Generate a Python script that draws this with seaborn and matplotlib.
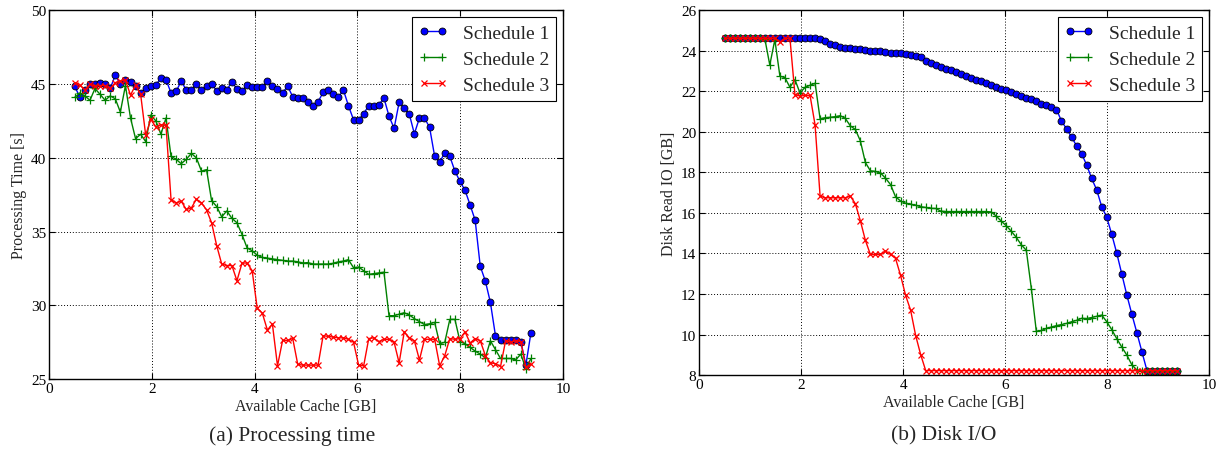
import matplotlib
matplotlib.use("Agg")
import matplotlib.pyplot as plt
import seaborn as sns
import numpy as np
import pandas as pd

# ---------------- data ----------------
cache_gb = [0.5, 0.599, 0.697, 0.796, 0.894, 0.993, 1.092, 1.19, 1.289, 1.387,
            1.486, 1.585, 1.683, 1.782, 1.88, 1.979, 2.078, 2.176, 2.275, 2.373,
            2.472, 2.571, 2.669, 2.768, 2.866, 2.965, 3.064, 3.162, 3.261, 3.359,
            3.458, 3.557, 3.655, 3.754, 3.852, 3.951, 4.05, 4.148, 4.247, 4.345,
            4.444, 4.543, 4.641, 4.74, 4.838, 4.937, 5.036, 5.134, 5.233, 5.331,
            5.43, 5.529, 5.627, 5.726, 5.824, 5.923, 6.022, 6.12, 6.219, 6.317,
            6.416, 6.515, 6.613, 6.712, 6.81, 6.909, 7.008, 7.106, 7.205, 7.303,
            7.402, 7.501, 7.599, 7.698, 7.796, 7.895, 7.994, 8.092, 8.191, 8.289,
            8.388, 8.487, 8.585, 8.684, 8.782, 8.881, 8.98, 9.078, 9.177, 9.275,
            9.374]

time_s1 = [44.84, 44.12, 44.6, 45.0, 45.0, 45.1, 45.0, 44.7, 45.6, 45.0,
           45.25, 45.15, 44.84, 44.4, 44.7, 44.84, 44.95, 45.4, 45.3, 44.4,
           44.5, 45.2, 44.6, 44.6, 45.0, 44.57, 44.9, 45.0, 44.55, 44.75,
           44.6, 45.15, 44.66, 44.5, 44.95, 44.8, 44.77, 44.8, 45.2, 44.86,
           44.66, 44.4, 44.86, 44.14, 44.03, 44.05, 43.76, 43.53, 43.8, 44.43,
           44.57, 44.3, 44.12, 44.6, 43.53, 42.58, 42.58, 43.0, 43.53, 43.5,
           43.6, 44.05, 42.83, 42.0, 43.76, 43.37, 42.96, 41.63, 42.7, 42.7,
           42.07, 40.1, 39.7, 40.36, 40.1, 39.1, 38.4, 37.8, 36.8, 35.77,
           32.65, 31.65, 30.2, 27.94, 27.65, 27.65, 27.65, 27.65, 27.55, 25.95,
           28.15]
time_s2 = [44.1, 44.4, 44.2, 43.9, 44.7, 44.3, 43.9, 44.2, 44.0, 43.1,
           44.9, 42.7, 41.3, 41.6, 41.1, 42.9, 42.5, 41.6, 42.7, 40.1,
           39.9, 39.6, 39.9, 40.3, 40.0, 39.1, 39.2, 37.1, 36.7, 36.0,
           36.4, 35.9, 35.6, 34.8, 33.9, 33.7, 33.4, 33.25, 33.2, 33.15,
           33.1, 33.05, 33.0, 33.0, 32.95, 32.87, 32.9, 32.8, 32.8, 32.8,
           32.8, 32.85, 32.95, 33.0, 33.1, 32.55, 32.6, 32.35, 32.1, 32.15,
           32.2, 32.25, 29.3, 29.3, 29.4, 29.5, 29.35, 29.1, 28.9, 28.7,
           28.75, 28.85, 27.4, 27.5, 29.05, 29.05, 27.55, 27.4, 27.15, 26.9,
           26.7, 26.45, 27.6, 27.0, 26.4, 26.4, 26.4, 26.3, 26.7, 25.7,
           26.4]
time_s3 = [45.1, 44.93, 44.6, 45.0, 44.84, 44.9, 44.9, 44.7, 45.1, 45.2,
           45.27, 44.25, 44.93, 44.3, 41.54, 42.6, 42.1, 42.24, 42.2, 37.17,
           36.95, 37.06, 36.5, 36.6, 37.2, 36.95, 36.47, 35.6, 34.05, 32.8,
           32.7, 32.7, 31.67, 32.87, 32.87, 32.35, 29.8, 29.48, 28.33, 28.73,
           25.9, 27.62, 27.62, 27.76, 26.0, 25.95, 25.95, 25.95, 25.95, 27.94,
           27.9, 27.85, 27.8, 27.8, 27.7, 27.5, 25.95, 25.9, 27.75, 27.8,
           27.55, 27.7, 27.7, 27.5, 26.1, 28.2, 27.8, 27.6, 26.3, 27.7,
           27.7, 27.7, 25.9, 26.6, 27.75, 27.7, 27.75, 28.2, 27.45, 27.75,
           27.6, 26.6, 26.1, 26.05, 25.85, 27.6, 27.5, 27.6, 27.55, 25.8,
           26.0]

io_s1 = [24.62, 24.62, 24.62, 24.62, 24.62, 24.62, 24.62, 24.62, 24.62, 24.62,
         24.62, 24.62, 24.62, 24.62, 24.62, 24.62, 24.62, 24.62, 24.62, 24.58,
         24.49, 24.36, 24.28, 24.2, 24.16, 24.13, 24.1, 24.07, 24.05, 24.0,
         23.97, 23.97, 23.95, 23.87, 23.87, 23.87, 23.82, 23.77, 23.74, 23.7,
         23.5, 23.38, 23.3, 23.2, 23.12, 23.04, 22.94, 22.85, 22.75, 22.67,
         22.57, 22.49, 22.39, 22.31, 22.23, 22.13, 22.05, 21.95, 21.87, 21.77,
         21.69, 21.6, 21.5, 21.4, 21.32, 21.22, 21.1, 20.54, 20.15, 19.75,
         19.31, 18.92, 18.37, 17.7, 17.14, 16.31, 15.78, 14.94, 14.0, 12.98,
         11.94, 10.99, 10.08, 9.14, 8.22, 8.22, 8.22, 8.22, 8.22, 8.22,
         8.22]
io_s2 = [24.62, 24.62, 24.62, 24.62, 24.62, 24.62, 24.62, 24.62, 24.6, 23.3,
         24.55, 22.75, 22.68, 22.2, 22.58, 21.92, 22.2, 22.3, 22.4, 20.65,
         20.7, 20.72, 20.75, 20.8, 20.67, 20.3, 20.12, 19.56, 18.49, 18.08,
         18.05, 17.97, 17.72, 17.4, 16.8, 16.59, 16.48, 16.43, 16.38, 16.31,
         16.27, 16.23, 16.22, 16.09, 16.07, 16.07, 16.07, 16.07, 16.07, 16.07,
         16.07, 16.07, 16.07, 16.05, 15.85, 15.6, 15.37, 15.1, 14.8, 14.43,
         14.16, 12.27, 10.15, 10.2, 10.3, 10.37, 10.44, 10.49, 10.55, 10.63,
         10.7, 10.8, 10.79, 10.84, 10.9, 10.96, 10.63, 10.24, 9.79, 9.38,
         8.98, 8.5, 8.25, 8.22, 8.22, 8.22, 8.22, 8.22, 8.22, 8.22,
         8.22]
io_s3 = [24.62, 24.62, 24.62, 24.62, 24.62, 24.62, 24.62, 24.62, 24.62, 24.62,
         24.62, 24.44, 24.62, 24.62, 21.84, 21.77, 21.8, 21.8, 20.34, 16.83,
         16.75, 16.75, 16.75, 16.75, 16.75, 16.83, 16.46, 15.62, 14.65, 13.95,
         13.95, 13.95, 14.13, 13.95, 13.76, 12.92, 11.93, 11.2, 9.95, 9.01,
         8.22, 8.22, 8.22, 8.22, 8.22, 8.22, 8.22, 8.22, 8.22, 8.22,
         8.22, 8.22, 8.22, 8.22, 8.22, 8.22, 8.22, 8.22, 8.22, 8.22,
         8.22, 8.22, 8.22, 8.22, 8.22, 8.22, 8.22, 8.22, 8.22, 8.22,
         8.22, 8.22, 8.22, 8.22, 8.22, 8.22, 8.22, 8.22, 8.22, 8.22,
         8.22, 8.22, 8.22, 8.22, 8.22, 8.22, 8.22, 8.22, 8.22, 8.22,
         8.22]

series_names = ["Schedule 1", "Schedule 2", "Schedule 3"]
x_ticks = [0, 2, 4, 6, 8, 10]
time_ticks = [25, 30, 35, 40, 45, 50]
io_ticks = [8, 10, 12, 14, 16, 18, 20, 22, 24, 26]

# ---------------- style ----------------
sns.set_style("ticks")
plt.rcParams.update({
    "font.family": ["Liberation Serif", "DejaVu Serif"],
    "xtick.direction": "in",
    "ytick.direction": "in",
    "xtick.top": True,
    "ytick.right": True,
    "xtick.major.size": 4,
    "ytick.major.size": 4,
    "axes.edgecolor": "black",
    "axes.linewidth": 1.0,
    "xtick.color": "black",
    "ytick.color": "black",
})

blue, green, red = (0, 0, 1), (0, 0.5, 0), (1, 0, 0)
styles = [
    dict(color=blue, marker="o", markersize=5, markeredgecolor="black",
         markeredgewidth=0.6),
    dict(color=green, marker="+", markersize=5.5, markeredgecolor=green,
         markeredgewidth=0.9),
    dict(color=red, marker="x", markersize=4.5, markeredgecolor=red,
         markeredgewidth=0.9),
]

fig = plt.figure(figsize=(12.29, 4.52), dpi=100)
ax1 = fig.add_axes([0.0399, 0.159, 0.4183, 0.816])
ax2 = fig.add_axes([0.5688, 0.168, 0.415, 0.807])


def draw(ax, series, yticks, ylabel):
    for name, vals, st in zip(series_names, series, styles):
        df = pd.DataFrame({"x": cache_gb, "y": vals})
        sns.lineplot(data=df, x="x", y="y", ax=ax, label=name, linewidth=1.0,
                     estimator=None, **st)
    ax.set_xlim(x_ticks[0], x_ticks[-1])
    ax.set_ylim(yticks[0], yticks[-1])
    ax.set_xticks(x_ticks)
    ax.set_yticks(yticks)
    ax.tick_params(labelsize=11, pad=2)
    ax.grid(True, color="black", linestyle=(0, (1, 2)), linewidth=0.7)
    ax.set_xlabel("Available Cache [GB]", fontsize=11.5, labelpad=2)
    ax.set_ylabel(ylabel, fontsize=11.5, labelpad=3)
    leg = ax.legend(loc="upper right", fontsize=14, numpoints=2,
                    fancybox=False, framealpha=1, edgecolor="black",
                    borderpad=0.35, labelspacing=0.45, handlelength=1.5,
                    handletextpad=0.8, borderaxespad=0.35)
    leg.get_frame().set_linewidth(0.8)


draw(ax1, [time_s1, time_s2, time_s3], time_ticks, "Processing Time [s]")
draw(ax2, [io_s1, io_s2, io_s3], io_ticks, "Disk Read IO [GB]")

fig.text(0.2375, 0.035, "(a) Processing time", ha="center", va="center",
         fontsize=15.5)
fig.text(0.768, 0.035, "(b) Disk I/O", ha="center", va="center",
         fontsize=15.5)

fig.savefig("out.png", dpi=100)
